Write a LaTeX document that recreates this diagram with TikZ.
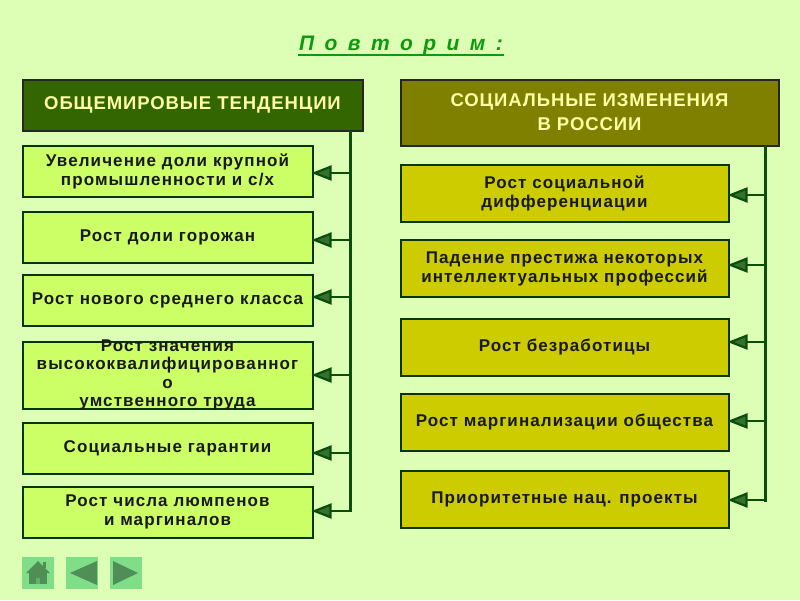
\documentclass[tikz,border=0pt]{standalone}
\usepackage{fontspec}
\setmainfont{Liberation Sans}
\usetikzlibrary{arrows.meta}
\newfontfamily\bodyfam[LetterSpace=6.4]{Liberation Sans}
\newfontfamily\headfam[LetterSpace=5]{Liberation Sans}
\newfontfamily\titlefam[LetterSpace=22]{Liberation Sans}
\definecolor{bgc}{HTML}{DDFFB5}
\definecolor{dgreen}{HTML}{0B4D0B}
\definecolor{hgreen}{HTML}{336600}
\definecolor{holive}{HTML}{808000}
\definecolor{lime}{HTML}{CCFF66}
\definecolor{yel}{HTML}{CCCC00}
\definecolor{ttl}{HTML}{0E9A0E}
\definecolor{navb}{HTML}{80DD88}
\definecolor{navf}{HTML}{4F8F55}
\definecolor{headt}{HTML}{FFFFA8}
\tikzset{
  x=1pt,y=-1pt,
  boxtext/.style={inner sep=0pt,outer sep=0pt,align=center,
    font=\bodyfam\bfseries\fontsize{17}{19}\selectfont,text=black!90},
  boxbase/.style={boxtext,draw=dgreen!70!black,line width=2pt,anchor=north west,minimum width=#1},
  lbox/.style={boxbase=290pt,fill=lime},
  rbox/.style={boxbase=328pt,fill=yel},
  lhead/.style={draw=black!85,line width=2pt,anchor=north west,inner sep=0pt,outer sep=0pt,align=center,fill=hgreen,
    minimum width=340pt,minimum height=51pt,text=headt,font=\headfam\bfseries\fontsize{18.5}{24}\selectfont},
  rhead/.style={lhead,fill=holive,minimum width=378pt,minimum height=66pt},
  spine/.style={draw=dgreen,line width=3pt},
  feeder/.style={draw=dgreen,line width=2.2pt,
    -{Triangle[length=20pt,width=15pt,fill=dgreen!80!bgc]}},
  navbtn/.style={fill=navb,draw=none,minimum size=32pt,inner sep=0pt,outer sep=0pt,anchor=north west},
  navmark/.style={fill=navf,draw=none}
}
\begin{document}
\begin{tikzpicture}
\useasboundingbox (0,0) rectangle (800,600);
\fill[bgc] (0,0) rectangle (800,600);
\node[inner sep=1pt,outer sep=0pt,text=ttl,font=\titlefam\bfseries\itshape\fontsize{21}{24}\selectfont] (title) at (401,45) {П о в т о р и м :};
\draw[ttl,line width=2pt] (title.south west) -- (title.south east);
% headers
\node[lhead] (lh) at (22.5,79.5) {ОБЩЕМИРОВЫЕ ТЕНДЕНЦИИ};
\node[rhead] (rh) at (400.5,79.5) {СОЦИАЛЬНЫЕ ИЗМЕНЕНИЯ\\В РОССИИ};
% left boxes
\node[lbox,minimum height=51pt] (l1) at (22.5,145.5) {Увеличение доли крупной\\промышленности и с/х};
\node[lbox,minimum height=51pt] (l2) at (22.5,211.5) {Рост доли горожан};
\node[lbox,minimum height=51pt] (l3) at (22.5,274.5) {Рост нового среднего класса};
\node[lbox,minimum height=67pt] (l4) at (22.5,341.5) {};
\node[boxtext,font=\bodyfam\bfseries\fontsize{17}{18.3}\selectfont] (l4t) at (l4.center) {Рост значения\\высококвалифицированног\\о\\умственного труда};
\node[lbox,minimum height=51pt] (l5) at (22.5,422.5) {Социальные гарантии};
\node[lbox,minimum height=51pt] (l6) at (22.5,486.5) {Рост числа люмпенов\\и маргиналов};
% right boxes
\node[rbox,minimum height=57pt] (r1) at (400.5,164.5) {Рост социальной\\дифференциации};
\node[rbox,minimum height=57pt] (r2) at (400.5,240) {Падение престижа некоторых\\интеллектуальных профессий};
\node[rbox,minimum height=57pt] (r3) at (400.5,319) {Рост безработицы};
\node[rbox,minimum height=57pt] (r4) at (400.5,393.5) {Рост маргинализации общества};
\node[rbox,minimum height=57pt] (r5) at (400.5,470.5) {Приоритетные нац. проекты};
% spines
\coordinate (ls) at (350,131);
\coordinate (le) at (350,512);
\coordinate (rs) at (765,146);
\coordinate (re) at (765,502);
\draw[spine] (ls) -- (le);
\draw[spine] (rs) -- (re);
\foreach \n/\y in {1/173,2/240,3/297,4/375,5/453,6/511}{
  \coordinate (a) at (350,\y);
  \draw[feeder] (a) -- ([xshift=-1pt]l\n.east |- a);
}
\foreach \n/\y in {1/195,2/265,3/342,4/421,5/500}{
  \coordinate (a) at (765,\y);
  \draw[feeder] (a) -- ([xshift=-1pt]r\n.east |- a);
}
% navigation
\node[navbtn] (n1) at (22,557) {};
\node[navbtn] (n2) at (66,557) {};
\node[navbtn] (n3) at (110,557) {};
\fill[navmark] (43,562) rectangle (45.5,568);
\fill[navmark] (26,573) -- (38,561) -- (50,573) -- cycle;
\fill[navmark] (29,573) rectangle (47,584);
\fill[navf!60!navb] (36,578) rectangle (40,584);
\fill[navmark] (70,573) -- (97,561) -- (97,585) -- cycle;
\fill[navmark] (113,561) -- (138,573) -- (113,585) -- cycle;
\end{tikzpicture}
\end{document}
